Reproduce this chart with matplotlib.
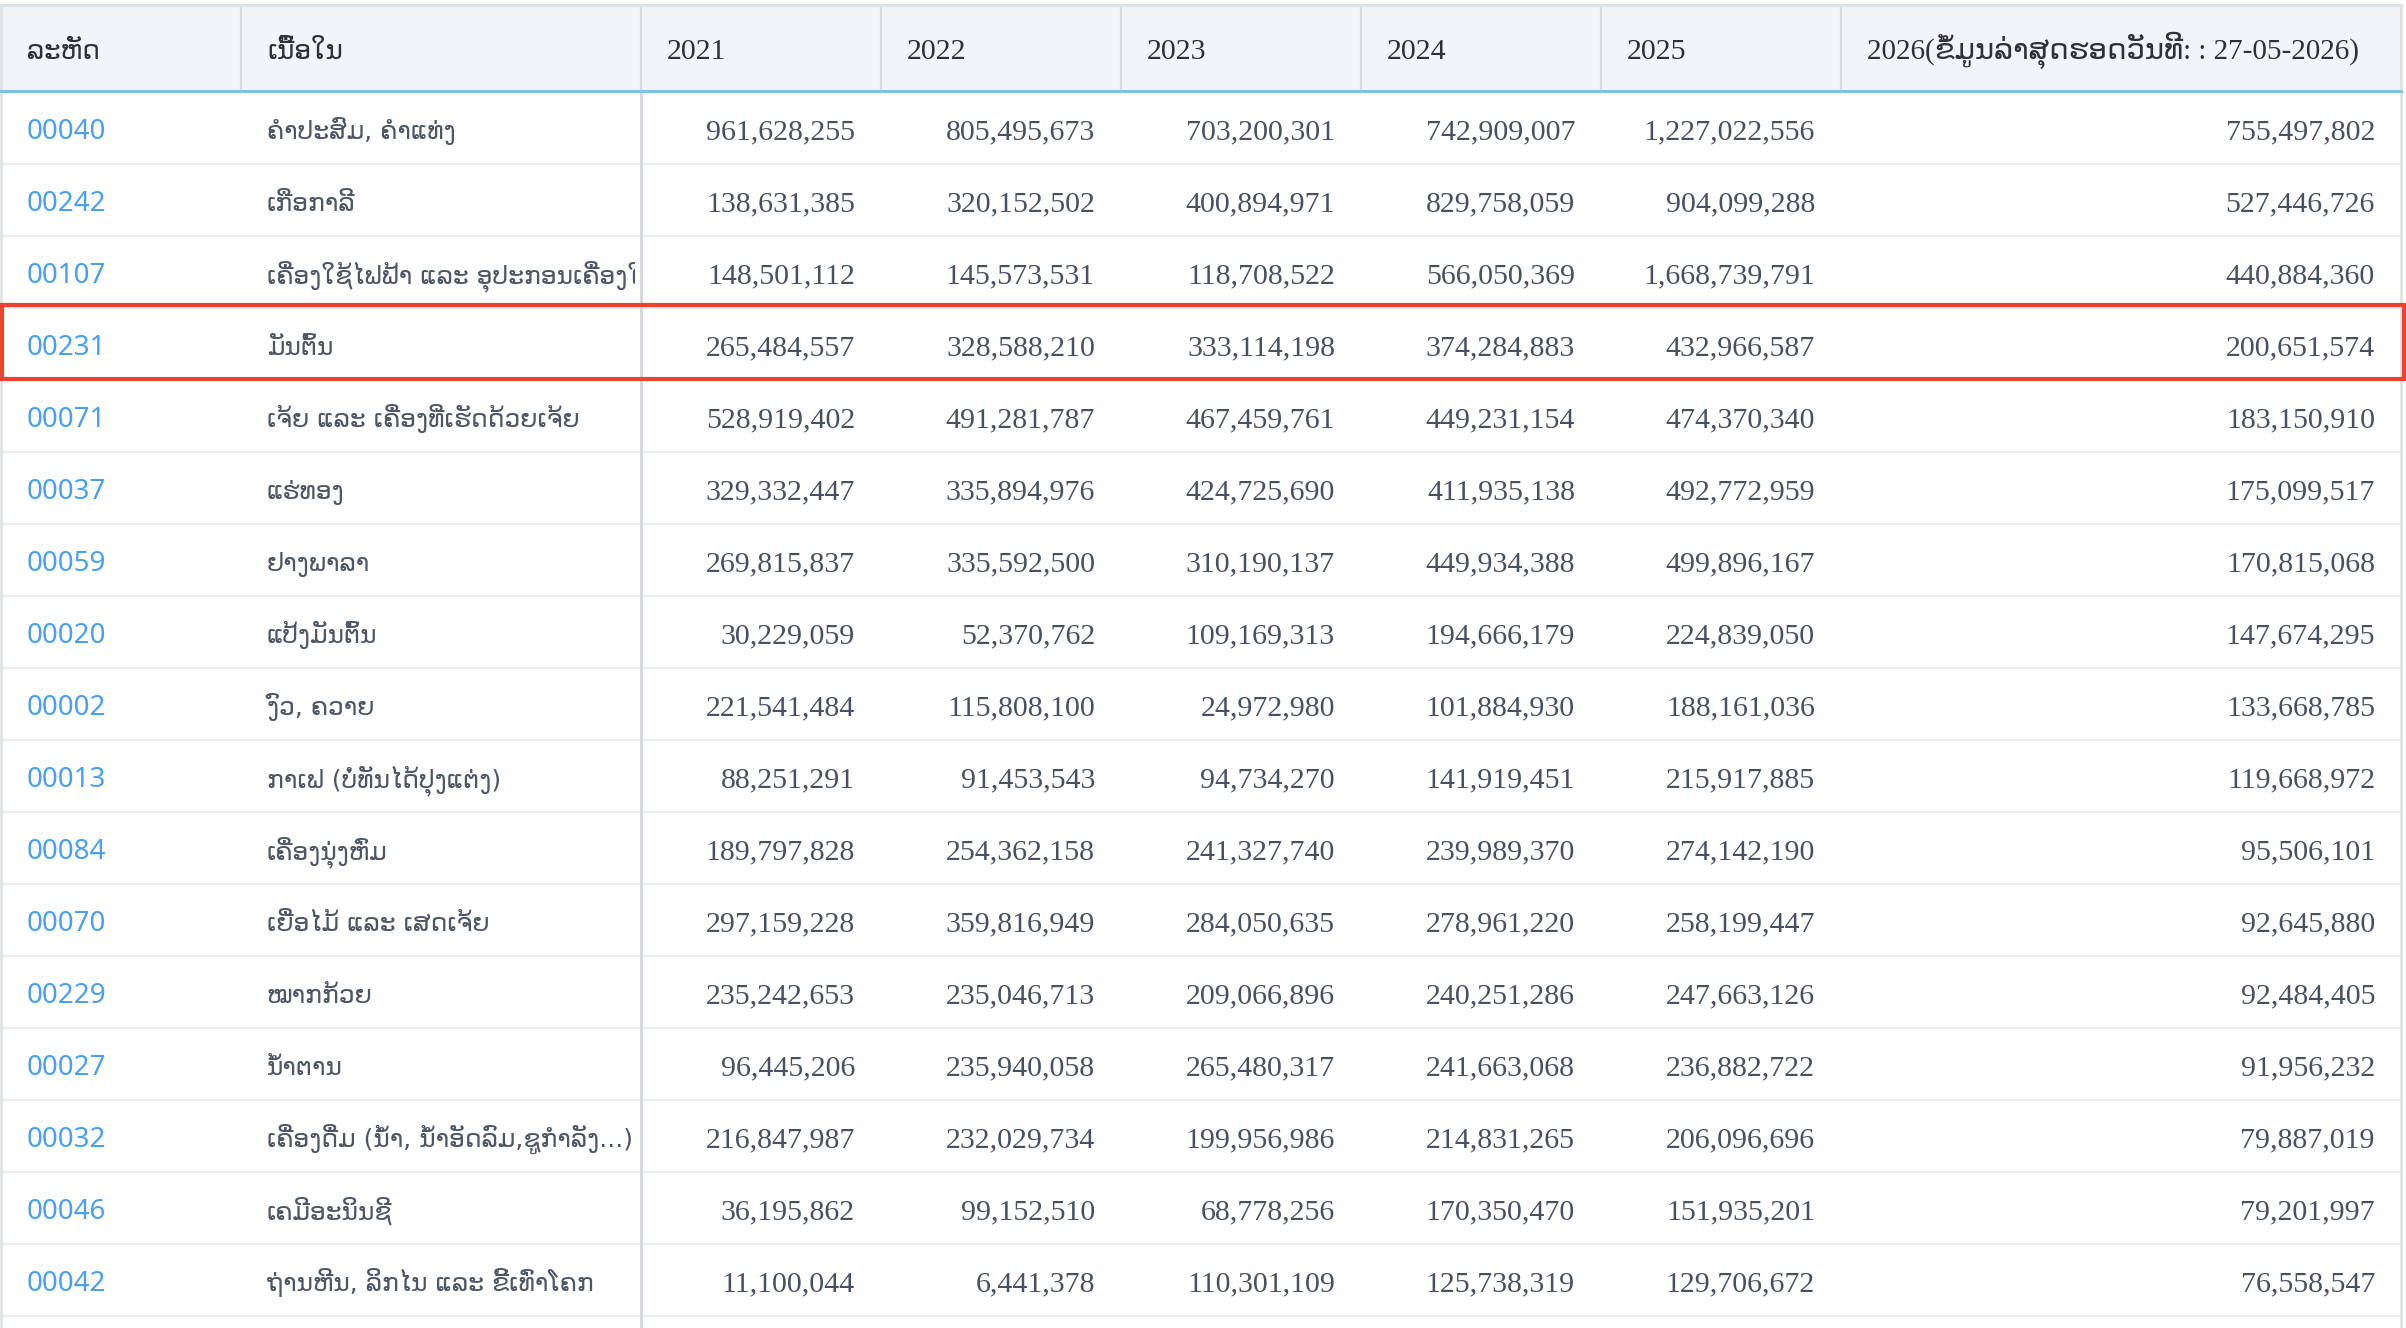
import matplotlib
matplotlib.use("Agg")
import matplotlib.pyplot as plt
from matplotlib.patches import Rectangle
from matplotlib.transforms import Bbox, TransformedBbox
from matplotlib import font_manager

codes = ['00040', '00242', '00107', '00231', '00071', '00037', '00059', '00020', '00002',
         '00013', '00084', '00070', '00229', '00027', '00032', '00046', '00042']
names = ['ຄຳປະສົມ, ຄຳແທ່ງ', 'ເກືອກາລີ', 'ເຄື່ອງໃຊ້ໄຟຟ້າ ແລະ ອຸປະກອນເຄື່ອງໃຊ້ໄຟຟ້າ', 'ມັນຕົ້ນ',
         'ເຈ້ຍ ແລະ ເຄື່ອງທີ່ເຮັດດ້ວຍເຈ້ຍ', 'ແຮ່ທອງ', 'ຢາງພາລາ', 'ແປ້ງມັນຕົ້ນ', 'ງົວ, ຄວາຍ',
         'ກາເຟ (ບໍ່ທັນໄດ້ປຸງແຕ່ງ)', 'ເຄື່ອງນຸ່ງຫົ່ມ', 'ເຍື່ອໄມ້ ແລະ ເສດເຈ້ຍ', 'ໝາກກ້ວຍ', 'ນ້ຳຕານ',
         'ເຄື່ອງດື່ມ (ນ້ຳ, ນ້ຳອັດລົມ,ຊູກຳລັງ...)', 'ເຄມີອະນິນຊີ', 'ຖ່ານຫີນ, ລິກໄນ ແລະ ຂີ້ເທົ່າໂຄກ']
headers = ['ລະຫັດ', 'ເນື້ອໃນ', '2021', '2022', '2023', '2024', '2025',
           '2026(ຂໍ້ມູນລ່າສຸດຮອດວັນທີ: : 27-05-2026)']
v2021 = [961628255, 138631385, 148501112, 265484557, 528919402, 329332447, 269815837, 30229059,
         221541484, 88251291, 189797828, 297159228, 235242653, 96445206, 216847987, 36195862, 11100044]
v2022 = [805495673, 320152502, 145573531, 328588210, 491281787, 335894976, 335592500, 52370762,
         115808100, 91453543, 254362158, 359816949, 235046713, 235940058, 232029734, 99152510, 6441378]
v2023 = [703200301, 400894971, 118708522, 333114198, 467459761, 424725690, 310190137, 109169313,
         24972980, 94734270, 241327740, 284050635, 209066896, 265480317, 199956986, 68778256, 110301109]
v2024 = [742909007, 829758059, 566050369, 374284883, 449231154, 411935138, 449934388, 194666179,
         101884930, 141919451, 239989370, 278961220, 240251286, 241663068, 214831265, 170350470, 125738319]
v2025 = [1227022556, 904099288, 1668739791, 432966587, 474370340, 492772959, 499896167, 224839050,
         188161036, 215917885, 274142190, 258199447, 247663126, 236882722, 206096696, 151935201, 129706672]
v2026 = [755497802, 527446726, 440884360, 200651574, 183150910, 175099517, 170815068, 147674295,
         133668785, 119668972, 95506101, 92645880, 92484405, 91956232, 79887019, 79201997, 76558547]
highlight = '00231'

W, H = 2406, 1328
fig = plt.figure(figsize=(W / 100, H / 100), dpi=100)
ax = fig.add_axes([0, 0, 1, 1])
ax.set_xlim(0, W)
ax.set_ylim(H, 0)
ax.axis('off')

col_x = [1, 241, 641, 881, 1121, 1361, 1601, 1841, 2401]
head_top, head_bot = 6, 92
row_h = 72
pad = 26

SERIF = ['Liberation Serif', 'DejaVu Sans']
SANS = ['Noto Sans', 'DejaVu Sans']
LAO = ['DejaVu Sans']

# header background
ax.add_patch(Rectangle((col_x[0], head_top), col_x[-1] - col_x[0], head_bot - head_top,
                       facecolor='#f3f4f8', edgecolor='none', zorder=0))
# top border
ax.plot([0, col_x[-1]], [head_top - 1, head_top - 1], color='#dfe2e6', lw=2.2, zorder=2)
# header separators
for x in col_x[1:-1]:
    ax.plot([x, x], [head_top, head_bot], color='#d9dce1', lw=1.6, zorder=2)
# header texts
for j, h in enumerate(headers):
    fam = LAO if j < 2 else SERIF
    fs = 19 if j < 2 else 21.5
    if j == len(headers) - 1:
        fs = 21
    ax.text(col_x[j] + pad, 59, h, fontsize=fs, family=fam, color='#2d3138',
            ha='left', va='baseline', zorder=3)
# header bottom line
ax.plot([0, col_x[-1]], [head_bot - 1, head_bot - 1], color='#7cc4e2', lw=2.2, zorder=4)

cols = [v2021, v2022, v2023, v2024, v2025, v2026]
n = len(codes)
for i in range(n):
    top = head_bot + i * row_h
    base = top + 36 + 11
    ax.plot([0, col_x[-1]], [top + row_h, top + row_h], color='#ebedf0', lw=1.6, zorder=1)
    ax.text(col_x[0] + pad, base, codes[i], fontsize=20, family=SANS, color='#4a9ff0',
            ha='left', va='baseline', zorder=3)
    t = ax.text(col_x[1] + pad, base, names[i], fontsize=18, family=LAO, color='#4d5665',
                ha='left', va='baseline', zorder=3, clip_on=True)
    t.set_clip_box(TransformedBbox(Bbox([[col_x[1], top], [col_x[2] - 6, top + row_h]]),
                                   ax.transData))
    for j, col in enumerate(cols):
        ax.text(col_x[j + 3] - 26, base, f'{col[i]:,}', fontsize=21.5, family=SERIF,
                color='#475161', ha='right', va='baseline', zorder=3)
    if codes[i] == highlight:
        ax.add_patch(Rectangle((1.5, top - 3), W - 3.5, row_h + 2, facecolor='none',
                               edgecolor='#e8452c', lw=3.0, zorder=5))

# body vertical lines
ax.plot([col_x[2], col_x[2]], [head_bot, H], color='#d3d6db', lw=2.0, zorder=2)
ax.plot([col_x[0], col_x[0]], [head_top, H], color='#dfe2e6', lw=2.0, zorder=2)
ax.plot([col_x[-1], col_x[-1]], [head_top, H], color='#dfe2e6', lw=2.0, zorder=2)

fig.savefig('out.png', dpi=100, facecolor='white')
